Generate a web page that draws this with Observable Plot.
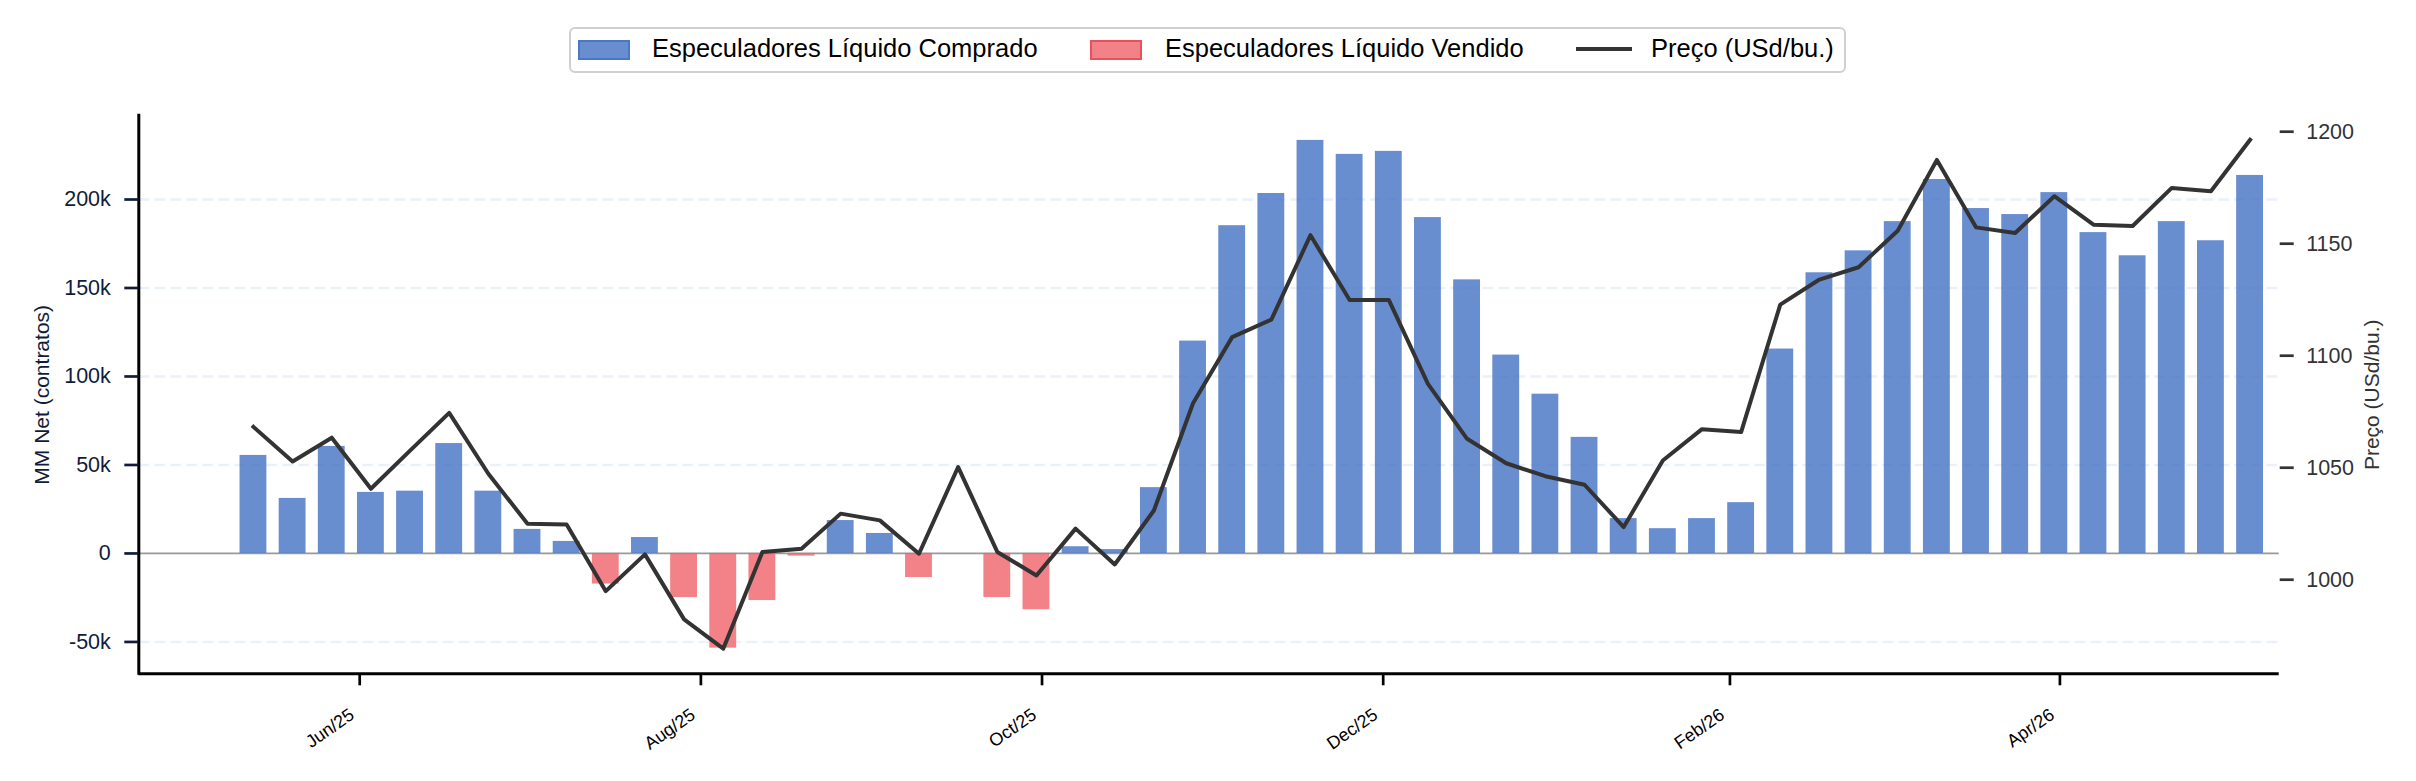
<!DOCTYPE html>
<html>
<head>
<meta charset="utf-8">
<script src="https://cdn.jsdelivr.net/npm/d3@7"></script>
<script src="https://cdn.jsdelivr.net/npm/@observablehq/plot@0.6"></script>
<style>
  html, body { margin: 0; padding: 0; background: #fff; }
  body { font-family: "Liberation Sans", Arial, sans-serif; }
  #wrap { position: relative; width: 2416px; height: 781px; overflow: hidden; }
  #wrap svg { position: absolute; left: 0; top: 0; max-width: none; }
  .lg-box { position: absolute; left: 569px; top: 27px; width: 1273px; height: 42px;
            border: 2px solid #d0d0d0; border-radius: 6px; background: #fff; }
  .lg-patch { position: absolute; width: 48px; height: 16px; top: 40px; border-width: 2px; border-style: solid; }
  .lg-line { position: absolute; height: 4px; top: 47px; width: 56px; background: #333; }
  .lg-text { position: absolute; top: 49px; transform: translateY(-50%); font-size: 25.5px; line-height: 1; color: #000; white-space: nowrap; }
</style>
</head>
<body>
<div id="wrap"></div>
<script>
// ---- data ----
const weeks = [
  "2025-05-13","2025-05-20","2025-05-27","2025-06-03","2025-06-10","2025-06-17","2025-06-24",
  "2025-07-01","2025-07-08","2025-07-15","2025-07-22","2025-07-29","2025-08-05","2025-08-12",
  "2025-08-19","2025-08-26","2025-09-02","2025-09-09","2025-09-16","2025-09-23","2025-09-30",
  "2025-10-07","2025-10-14","2025-10-21","2025-10-28","2025-11-04","2025-11-11","2025-11-18",
  "2025-11-25","2025-12-02","2025-12-09","2025-12-16","2025-12-23","2025-12-30","2026-01-06",
  "2026-01-13","2026-01-20","2026-01-27","2026-02-03","2026-02-10","2026-02-17","2026-02-24",
  "2026-03-03","2026-03-10","2026-03-17","2026-03-24","2026-03-31","2026-04-07","2026-04-14",
  "2026-04-21","2026-04-28","2026-05-05"
];
// MM net position, thousands of contracts
const netK = [
  55.4, 31.1, 60.5, 34.5, 35.2, 62.1, 35.2, 13.6, 6.8, -17.3,
  9.0, -24.9, -53.5, -26.6, -1.5, 18.6, 11.3, -13.6, 0, -24.9,
  -31.8, 3.8, 2.2, 37.2, 120.0, 185.2, 203.4, 233.4, 225.5, 227.2,
  189.8, 154.6, 112.1, 90.0, 65.6, 19.7, 14.0, 19.7, 28.7, 115.5,
  158.6, 171.0, 187.5, 211.3, 194.9, 191.5, 203.9, 181.3, 168.2, 187.5,
  176.7, 213.6
];
// Price, USd/bu.
const price = [
  1068.2, 1052.8, 1063.4, 1040.6, 1057.6, 1074.5, 1047.3, 1025.0, 1024.7, 994.9,
  1011.3, 982.3, 969.2, 1012.4, 1013.8, 1029.5, 1026.5, 1011.6, 1050.3, 1012.4,
  1001.9, 1022.8, 1006.8, 1030.9, 1078.8, 1108.3, 1116.1, 1153.8, 1124.9, 1124.9,
  1087.4, 1062.9, 1052.0, 1046.2, 1042.4, 1023.5, 1053.2, 1067.2, 1065.9, 1122.8,
  1134.0, 1139.5, 1155.8, 1187.4, 1157.3, 1154.8, 1171.2, 1158.5, 1157.9, 1174.9,
  1173.4, 1196.4
];
const xTickDates = ["2025-06-01","2025-08-01","2025-10-01","2025-12-01","2026-02-01","2026-04-01"];
const netTicks = [-50000, 0, 50000, 100000, 150000, 200000];
const gridTicks = [-50000, 50000, 100000, 150000, 200000];
const priceTicks = [1000, 1050, 1100, 1150, 1200];
const legendLabels = ["Especuladores Líquido Comprado", "Especuladores Líquido Vendido", "Preço (USd/bu.)"];
const netLabel = "MM Net (contratos)";
const priceLabel = "Preço (USd/bu.)";

// ---- layout / style ----
const W = 2416, H = 781;
const ML = 138.3, MR = 137.3, MT = 115.3, MB = 107.7;
const FONT = '"Liberation Sans", Arial, sans-serif';
const NAVY = "#101c3a";
const BLUE = "#4472C4", RED = "#EF6369";
const xDomain = [new Date("2025-04-22T12:00:00Z"), new Date("2026-05-10T05:00:00Z")];
const netDomain = [-68000, 247300];
const priceDomain = [958.0, 1207.1];
const HALF = 2.4 * 864e5;

const rows = weeks.map((w, i) => ({date: new Date(w + "T00:00:00Z"), net: netK[i] * 1000, price: price[i]}));
const pos = rows.filter(d => d.net > 0);
const neg = rows.filter(d => d.net < 0);
const fmtK = d => d === 0 ? "0" : (d / 1000) + "k";
const xTicks = xTickDates.map(d => new Date(d + "T00:00:00Z"));

const common = {
  width: W, height: H,
  marginLeft: ML, marginRight: MR, marginTop: MT, marginBottom: MB,
  style: {fontFamily: FONT, background: "transparent", overflow: "visible"}
};

const plotBars = Plot.plot({
  ...common,
  x: {type: "utc", domain: xDomain, axis: null},
  y: {domain: netDomain, axis: null},
  marks: [
    Plot.ruleY(gridTicks, {stroke: "#eaf1fb", strokeWidth: 2.6, strokeDasharray: "11,5"}),
    Plot.ruleY([0], {stroke: "#999999", strokeWidth: 1.7}),
    Plot.rect(pos, {x1: d => new Date(+d.date - HALF), x2: d => new Date(+d.date + HALF), y1: 0, y2: "net", fill: BLUE, fillOpacity: 0.8}),
    Plot.rect(neg, {x1: d => new Date(+d.date - HALF), x2: d => new Date(+d.date + HALF), y1: 0, y2: "net", fill: RED, fillOpacity: 0.8}),
    Plot.ruleX([xDomain[0]], {stroke: "#000", strokeWidth: 3, strokeLinecap: "square"}),
    Plot.ruleY([netDomain[0]], {stroke: "#000", strokeWidth: 3}),
    Plot.axisY({ticks: netTicks, tickFormat: fmtK, tickSize: 14, tickPadding: 14, fontSize: 21.5,
                stroke: NAVY, fill: NAVY, strokeWidth: 2.7, label: null}),
    // x tick marks
    Plot.axisX({ticks: xTicks, tickFormat: () => "", tickSize: 12, stroke: "#000", strokeWidth: 2.7, label: null}),
    // x tick labels (rotated, right-aligned to the tick)
    Plot.axisX({ticks: xTicks, tickFormat: d3.utcFormat("%b/%y"), tickSize: 0, tickPadding: 39, dx: -7.6,
                tickRotate: -35, fontSize: 18, fill: "#000", label: null}),
    Plot.text([netLabel], {text: d => d, frameAnchor: "left", rotate: -90, dx: -105, lineAnchor: "top",
                           textAnchor: "middle", fontSize: 21, fill: NAVY})
  ]
});

const plotPrice = Plot.plot({
  ...common,
  x: {type: "utc", domain: xDomain, axis: null},
  y: {domain: priceDomain, axis: null},
  marks: [
    Plot.line(rows, {x: "date", y: "price", stroke: "#333333", strokeWidth: 4, strokeLinejoin: "round", strokeLinecap: "square"}),
    Plot.axisY({anchor: "right", ticks: priceTicks, tickFormat: d => String(d), tickSize: 14, tickPadding: 13,
                fontSize: 21.5, stroke: "#333", fill: "#333", strokeWidth: 2.7, label: null}),
    Plot.text([priceLabel], {text: d => d, frameAnchor: "right", rotate: -90, dx: 85, lineAnchor: "top",
                             textAnchor: "middle", fontSize: 21, fill: "#333"})
  ]
});

const wrap = document.getElementById("wrap");
wrap.appendChild(plotBars);
wrap.appendChild(plotPrice);

// ---- legend ----
function el(cls, css, text) {
  const e = document.createElement("div");
  e.className = cls;
  Object.assign(e.style, css);
  if (text) e.textContent = text;
  wrap.appendChild(e);
  return e;
}
el("lg-box", {});
el("lg-patch", {left: "578px", background: "rgba(68,114,196,0.8)", borderColor: "#4a78c9"});
el("lg-text", {left: "652px"}, legendLabels[0]);
el("lg-patch", {left: "1090px", background: "rgba(239,99,105,0.8)", borderColor: "#e8505c"});
el("lg-text", {left: "1165px"}, legendLabels[1]);
el("lg-line", {left: "1576px"});
el("lg-text", {left: "1651px"}, legendLabels[2]);
</script>
</body>
</html>
